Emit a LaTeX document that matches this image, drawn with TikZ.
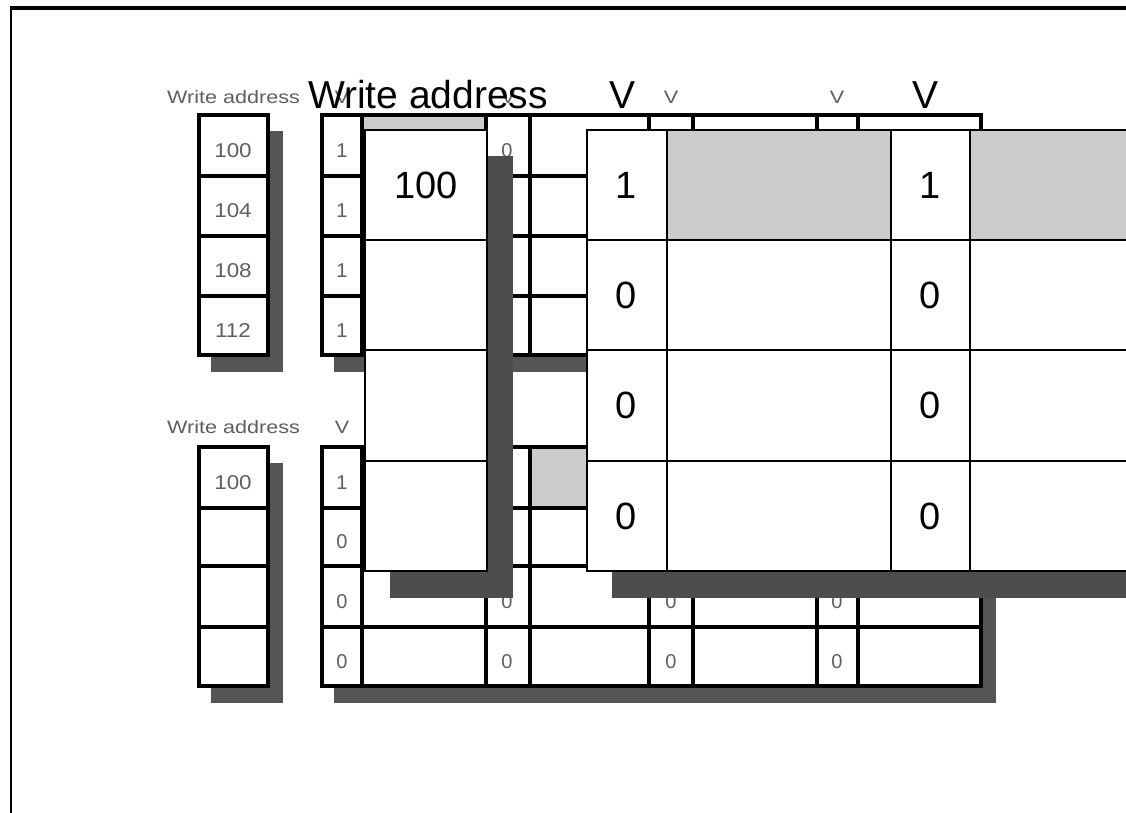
\documentclass[tikz,border=0pt]{standalone}
\usepackage{fontspec}
\setmainfont{Liberation Sans}
\definecolor{shadowA}{RGB}{85,85,85}
\definecolor{shadowB}{RGB}{77,77,77}
\definecolor{cellgray}{RGB}{204,204,204}
\definecolor{smalltext}{RGB}{95,95,95}
\tikzset{
  smallline/.style={line width=3.2pt},
  bigline/.style={line width=2.6pt},
  smallshadow/.style={fill=shadowA, draw=none},
  bigshadow/.style={fill=shadowB, draw=none},
  smalllabel/.style={font=\fontsize{18}{18}\selectfont, text=smalltext, inner sep=0pt, anchor=base},
  smalldigit/.style={font=\fontsize{20}{20}\selectfont, text=smalltext, inner sep=0pt, anchor=base},
  biglabel/.style={font=\fontsize{39}{39}\selectfont, inner sep=0pt, anchor=base},
  bigdigit/.style={font=\fontsize{38}{38}\selectfont, inner sep=0pt, anchor=center},
}
\begin{document}
\begin{tikzpicture}[x=1pt,y=-1pt]
\useasboundingbox (0,0) rectangle (1126,812);
\clip (0,0) rectangle (1126,812);
\fill[white] (0,0) rectangle (1126,812);
% frame
\draw[line width=2.5pt] (11,820) -- (11,8);
\draw[line width=3.2pt] (10,8) -- (1140,8);

% ===== small upper diagram =====
\fill[smallshadow] (268,131) rectangle (283,372);
\fill[smallshadow] (211,355) rectangle (283,372);
\fill[smallshadow] (981,131) rectangle (996,372);
\fill[smallshadow] (334,355) rectangle (996,372);
\fill[white] (199,115) rectangle (268,355);
\fill[white] (322,115) rectangle (981,355);
\fill[cellgray] (362,115) rectangle (486,176);
\draw[smallline] (199,115) rectangle (268,355);
\foreach \y in {176,236,296} \draw[smallline] (199,\y) -- (268,\y);
\draw[smallline] (322,115) rectangle (981,355);
\foreach \x in {362,486,530,649,693,817,858} \draw[smallline] (\x,115) -- (\x,355);
\foreach \y in {176,236,296} \draw[smallline] (322,\y) -- (981,\y);
\node[smalllabel, anchor=base west] (swa1) at (167,103) {\scalebox{1.2}[1]{Write address}};
\node[smalllabel] (sv1a) at (342,103) {\scalebox{1.2}[1]{V}};
\node[smalllabel] (sv1b) at (508,103) {\scalebox{1.2}[1]{V}};
\node[smalllabel] (sv1c) at (671,103) {\scalebox{1.2}[1]{V}};
\node[smalllabel] (sv1d) at (837,103) {\scalebox{1.2}[1]{V}};
\node[smalldigit] (sa1) at (233,157) {\scalebox{1.12}[1]{100}};
\node[smalldigit] (sa2) at (233,217.5) {\scalebox{1.12}[1]{104}};
\node[smalldigit] (sa3) at (233,277.5) {\scalebox{1.12}[1]{108}};
\node[smalldigit] (sa4) at (233,337) {\scalebox{1.12}[1]{112}};
\node[smalldigit] (sb1) at (342,157) {1};
\node[smalldigit] (sb2) at (342,217.5) {1};
\node[smalldigit] (sb3) at (342,277.5) {1};
\node[smalldigit] (sb4) at (342,337) {1};
\node[smalldigit] (sc1) at (507,157) {0};

% ===== small lower diagram =====
\fill[smallshadow] (268,463) rectangle (283,703);
\fill[smallshadow] (211,686) rectangle (283,703);
\fill[smallshadow] (981,463) rectangle (996,703);
\fill[smallshadow] (334,686) rectangle (996,703);
\fill[white] (199,447) rectangle (268,686);
\fill[white] (322,447) rectangle (981,686);
\fill[cellgray] (530,447) rectangle (649,508);
\draw[smallline] (199,447) rectangle (268,686);
\foreach \y in {508,566,627} \draw[smallline] (199,\y) -- (268,\y);
\draw[smallline] (322,447) rectangle (981,686);
\foreach \x in {362,486,530,649,693,817,858} \draw[smallline] (\x,447) -- (\x,686);
\foreach \y in {508,566,627} \draw[smallline] (322,\y) -- (981,\y);
\node[smalllabel, anchor=base west] (swa2) at (167,433) {\scalebox{1.2}[1]{Write address}};
\node[smalllabel] (sv2a) at (342,433) {\scalebox{1.2}[1]{V}};
\node[smalldigit] (ta1) at (233,489) {\scalebox{1.12}[1]{100}};
\node[smalldigit] (tb1) at (342,489) {1};
\node[smalldigit] (tb2) at (342,548.5) {0};
\node[smalldigit] (tb3) at (342,608) {0};
\node[smalldigit] (tb4) at (342,668) {0};
\node[smalldigit] (tc3) at (507,608) {0};
\node[smalldigit] (tc4) at (507,668) {0};
\node[smalldigit] (td3) at (671,608) {0};
\node[smalldigit] (td4) at (671,668) {0};
\node[smalldigit] (te3) at (837,608) {0};
\node[smalldigit] (te4) at (837,668) {0};

% ===== big foreground diagram =====
\node[biglabel] (bwa) at (428,108) {Write address};
\node[biglabel] (bv1) at (622,108) {V};
\node[biglabel] (bv2) at (925,108) {V};
% big address column
\fill[bigshadow] (487,156) rectangle (513,598);
\fill[bigshadow] (390,571) rectangle (513,598);
\fill[white] (365,130) rectangle (487,571);
\draw[bigline] (365,130) rectangle (487,571);
\foreach \y in {240,350,461} \draw[bigline] (365,\y) -- (487,\y);
\node[bigdigit] (ba1) at (426,185) {100};
% big table
\fill[bigshadow] (612,571) rectangle (1140,598);
\fill[white] (587,130) rectangle (1140,571);
\fill[cellgray] (667,130) rectangle (891,240);
\fill[cellgray] (970,130) rectangle (1140,240);
\draw[bigline] (1140,130) -- (587,130) -- (587,571) -- (1140,571);
\foreach \x in {667,891,970} \draw[bigline] (\x,130) -- (\x,571);
\foreach \y in {240,350,461} \draw[bigline] (587,\y) -- (1140,\y);
\node[bigdigit] (bb1) at (626,185) {1};
\node[bigdigit] (bb2) at (626,295) {0};
\node[bigdigit] (bb3) at (626,405) {0};
\node[bigdigit] (bb4) at (626,516) {0};
\node[bigdigit] (bc1) at (930,185) {1};
\node[bigdigit] (bc2) at (930,295) {0};
\node[bigdigit] (bc3) at (930,405) {0};
\node[bigdigit] (bc4) at (930,516) {0};
\end{tikzpicture}
\end{document}
